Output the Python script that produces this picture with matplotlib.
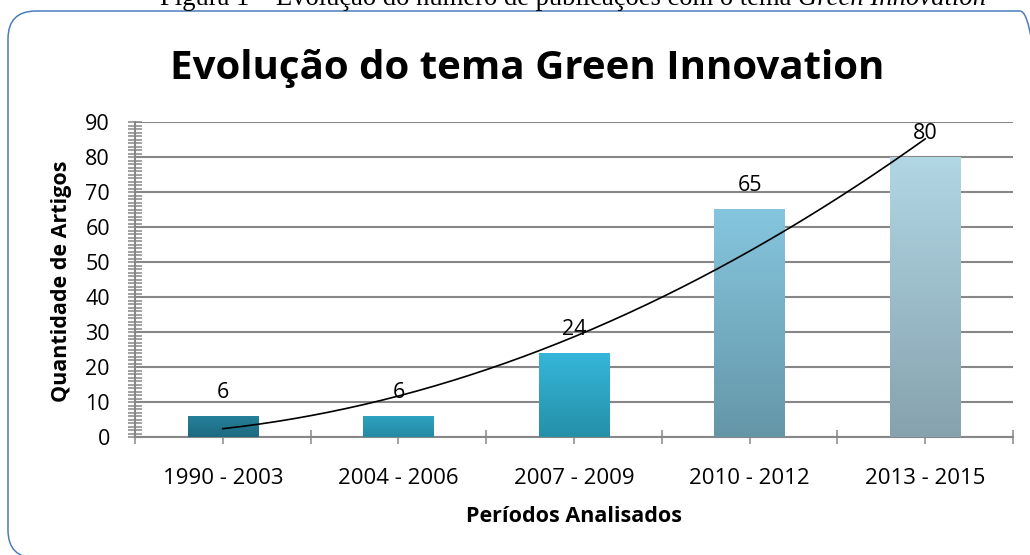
import numpy as np
import matplotlib
matplotlib.use('Agg')
import matplotlib.pyplot as plt
from matplotlib.colors import LinearSegmentedColormap
from matplotlib.patches import FancyBboxPatch
from matplotlib.ticker import MultipleLocator


periodos = ["1990 - 2003", "2004 - 2006", "2007 - 2009", "2010 - 2012", "2013 - 2015"]
artigos = [6, 6, 24, 65, 80]

# gradient top / bottom colour per bar
cor_topo = ["#26809a", "#2ea3c1", "#35b6d9", "#85c6de", "#b1d6e4"]
cor_base = ["#1c6a80", "#2489a3", "#2590a8", "#6596a8", "#86a2ae"]

titulo = "Evolução do tema Green Innovation"
legenda_fig = "Figura 1 – Evolução do número de publicações com o tema "
legenda_ital = "Green Innovation"

W, H = 1030, 555
fig = plt.figure(figsize=(W / 100, H / 100), dpi=100)
plt.rcParams['font.family'] = ['Open Sans', 'DejaVu Sans']

ax = fig.add_axes([135 / W, (H - 437) / H, (1013 - 135) / W, 315 / H])

x = np.arange(len(artigos))
largura = 0.4
cinza = "#878787"

for i, v in enumerate(artigos):
    cmap = LinearSegmentedColormap.from_list("g%d" % i, [cor_base[i], cor_topo[i]])
    grad = np.linspace(0, 1, 256).reshape(-1, 1)
    ax.imshow(grad, extent=[x[i] - largura / 2, x[i] + largura / 2, 0, v], origin='lower',
              cmap=cmap, aspect='auto', zorder=3, interpolation='bicubic')
    ax.annotate(str(v), xy=(x[i], v), xytext=(0, 13), textcoords='offset points',
                ha='center', va='baseline', fontsize=15.5, color='black', zorder=6)

# polynomial trend line (order 2) like the Excel one
coef = np.polyfit(x + 1, artigos, 2)
xs = np.linspace(1, len(artigos), 200)
ax.plot(xs - 1, np.polyval(coef, xs), color='black', lw=1.2, zorder=5)

ax.set_xlim(-0.5, len(artigos) - 0.5)
ax.set_ylim(0, 90)
ax.set_aspect('auto')
ax.yaxis.set_major_locator(MultipleLocator(10))
ax.yaxis.set_minor_locator(MultipleLocator(1))
ax.set_xticks(x)
ax.set_xticks(np.arange(-0.5, len(artigos), 1), minor=True)
ax.set_xticklabels(periodos)
ax.grid(axis='y', which='major', color=cinza, lw=1.5, zorder=0)
ax.set_axisbelow(True)

for s in ['top', 'right']:
    ax.spines[s].set_visible(False)
for s in ['left', 'bottom']:
    ax.spines[s].set_color(cinza)
    ax.spines[s].set_linewidth(1.5)

ax.tick_params(axis='both', which='both', direction='inout', length=10, width=1.1, color=cinza)
ax.tick_params(axis='y', labelsize=15.5, pad=13)
ax.tick_params(axis='x', labelsize=16, pad=17)

fig.text(62 / W, (H - 281) / H, "Quantidade de Artigos", rotation=90, ha='center', va='center',
         fontsize=15.5, fontweight='bold')
fig.text((135 + 1013) / 2 / W, (H - 516) / H, "Períodos Analisados", ha='center', va='center',
         fontsize=15.5, fontweight='bold')

fig.text(527 / W, (H - 68) / H, titulo, ha='center', va='center', fontsize=29, fontweight='bold')

# caption above the frame (cut off at the top like the source)
t1 = fig.text(160 / W, (H - 11) / H, legenda_fig, ha='left', va='bottom',
              fontsize=19.2, family='Liberation Serif')
ax.annotate(legenda_ital, xy=(1, 0), xycoords=t1, ha='left', va='bottom',
            fontsize=19.2, family='Liberation Serif', style='italic', annotation_clip=False)

# rounded frame
borda = FancyBboxPatch((8, -3), 1040, H - 11 + 3, boxstyle="round,pad=0,rounding_size=28",
                       transform=None, fill=False, edgecolor="#4a7ebb", lw=1.1, clip_on=False)
fig.patches.append(borda)

fig.savefig("out.png", dpi=100)
